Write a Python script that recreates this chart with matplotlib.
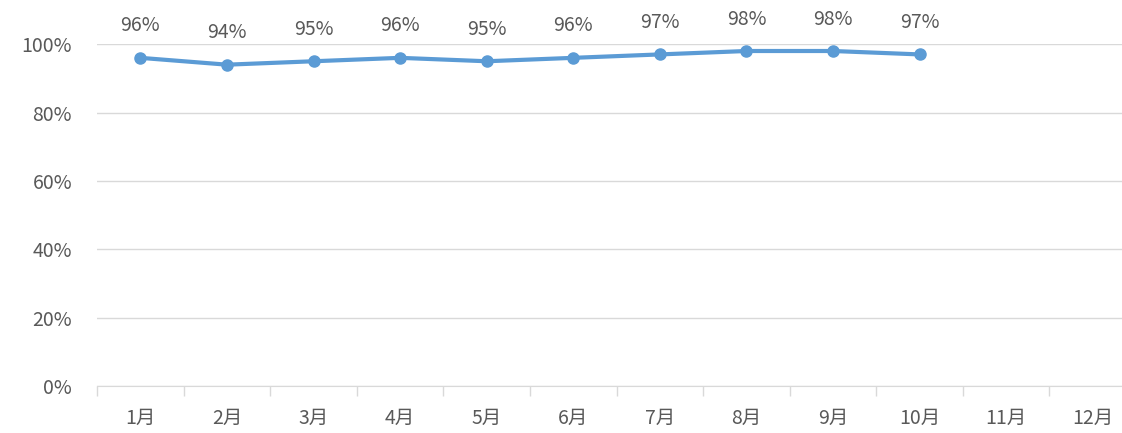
import matplotlib.pyplot as plt
from matplotlib.ticker import FuncFormatter, FixedLocator

plt.rcParams['font.family'] = ['Noto Sans CJK SC', 'DejaVu Sans']

months = ['1月', '2月', '3月', '4月', '5月', '6月', '7月', '8月', '9月', '10月', '11月', '12月']
rate = [96, 94, 95, 96, 95, 96, 97, 98, 98, 97]
yticks = [0, 20, 40, 60, 80, 100]

text_col = '#595959'
grid_col = '#d9d9d9'
line_col = '#5b9bd5'

fig = plt.figure(figsize=(11.22, 4.33), dpi=100)
# the source image is cropped: plot area runs slightly past the right edge
ax = fig.add_axes([0.0865, 0.1085, 0.926, 0.7895])

x = list(range(len(rate)))
ax.plot(x, rate, color=line_col, lw=3, marker='o', ms=8, zorder=3,
        solid_capstyle='round')
for xi, v in zip(x, rate):
    ax.annotate(f'{v}%', (xi, v), xytext=(0, 23), textcoords='offset points',
                ha='center', va='center', fontsize=14, color=text_col)

ax.set_xlim(-0.5, len(months) - 0.5)
ax.set_ylim(0, 100)
ax.set_yticks(yticks)
ax.yaxis.set_major_formatter(FuncFormatter(lambda v, p: f'{v:.0f}%'))
ax.set_xticks(range(len(months)))
ax.set_xticklabels(months)
ax.xaxis.set_minor_locator(FixedLocator([i - 0.5 for i in range(len(months) + 1)]))
ax.tick_params(axis='x', which='major', length=0, pad=16, labelsize=14, colors=text_col)
ax.tick_params(axis='x', which='minor', length=7, width=1, color=grid_col)
ax.tick_params(axis='y', length=0, pad=18, labelsize=14, colors=text_col)

ax.grid(axis='y', color=grid_col, lw=1)
for s in ['top', 'right', 'left']:
    ax.spines[s].set_visible(False)
ax.spines['bottom'].set_color(grid_col)
ax.set_axisbelow(True)

fig.savefig('out.png', dpi=100)
